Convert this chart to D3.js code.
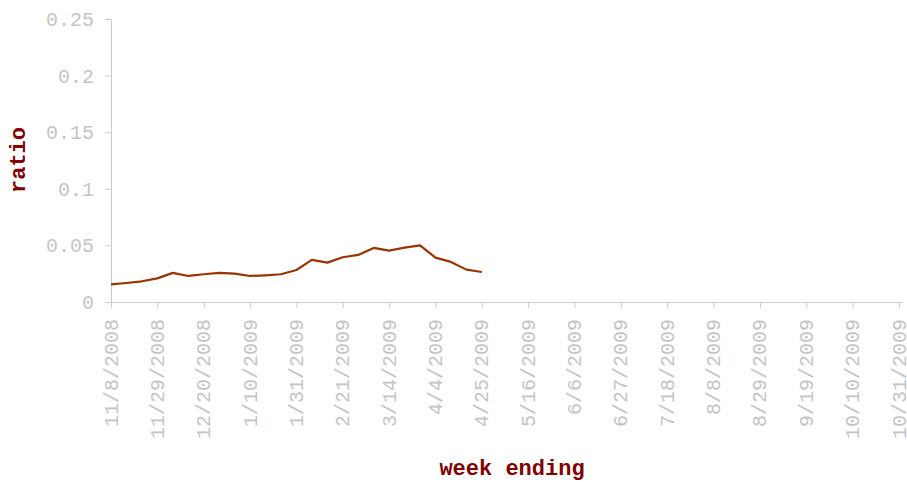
<!DOCTYPE html>
<html>
<head>
<meta charset="utf-8">
<script src="https://cdn.jsdelivr.net/npm/d3@7"></script>
<style>
  body { margin: 0; background: #fff; }
  .tick text { font-family: "Liberation Mono", "Courier New", monospace; font-size: 20px; fill: #c4c4c4; }
  .domain, .tick line { stroke: #cccccc; }
  .title { font-family: "Liberation Mono", "Courier New", monospace; font-weight: bold; font-size: 22px; fill: #800000; }
</style>
</head>
<body>
<svg width="907" height="482"></svg>
<script>
// weekly ratio, week ending 11/8/2008 .. 4/25/2009
var weekStart = "2008-11-08";
var ratios = [0.0156, 0.0168, 0.0183, 0.0209, 0.0257, 0.0230, 0.0245, 0.0257, 0.0251,
              0.0230, 0.0236, 0.0245, 0.0283, 0.0372, 0.0348, 0.0395, 0.0416, 0.0478,
              0.0454, 0.0481, 0.0501, 0.0392, 0.0354, 0.0286, 0.0265];
var xDomain = ["2008-11-08", "2009-10-31"];
var yTicks = [0, 0.05, 0.1, 0.15, 0.2, 0.25];

var parse = d3.timeParse("%Y-%m-%d");
var start = parse(weekStart);
var data = ratios.map(function (v, i) {
    return { date: d3.timeDay.offset(start, i * 7), value: v };
});

var svg = d3.select("svg");

var x = d3.scaleTime()
    .domain(xDomain.map(parse))
    .range([111, 899]);
var y = d3.scaleLinear()
    .domain([0, 0.25])
    .range([302, 19]);

/* ticks every 3 weeks */
var xTicks = d3.timeDay.range(parse(xDomain[0]), d3.timeDay.offset(parse(xDomain[1]), 1), 21);
var fmt = function (d) { return (d.getMonth() + 1) + "/" + d.getDate() + "/" + d.getFullYear(); };

var gx = svg.append("g")
    .attr("transform", "translate(0,302)")
    .call(d3.axisBottom(x).tickValues(xTicks).tickFormat(fmt).tickSize(6).tickSizeOuter(0));
gx.select(".domain").attr("d", "M111,0.5H903");
gx.selectAll(".tick text")
    .attr("transform", "rotate(-90)")
    .attr("text-anchor", "end")
    .attr("x", -17)
    .attr("y", -1)
    .attr("dy", "0.35em");

var gy = svg.append("g")
    .attr("transform", "translate(111,0)")
    .call(d3.axisLeft(y).tickValues(yTicks).tickFormat(d3.format("")).tickSize(6).tickSizeOuter(0).tickPadding(11));

var line = d3.line()
    .x(function (d) { return x(d.date); })
    .y(function (d) { return y(d.value); });

svg.append("path")
    .datum(data)
    .attr("fill", "none")
    .attr("stroke", "#993300")
    .attr("stroke-width", 2.2)
    .attr("stroke-linejoin", "round")
    .attr("d", line);

svg.append("text")
    .attr("class", "title")
    .attr("text-anchor", "middle")
    .attr("transform", "translate(25,160) rotate(-90)")
    .text("ratio");

svg.append("text")
    .attr("class", "title")
    .attr("text-anchor", "middle")
    .attr("x", 512)
    .attr("y", 475)
    .text("week ending");
</script>
</body>
</html>
